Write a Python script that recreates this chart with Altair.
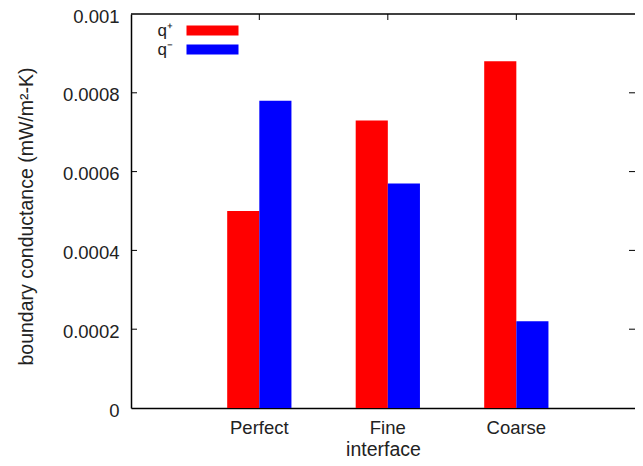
import altair as alt
import pandas as pd

categories = ["Perfect", "Fine", "Coarse"]
series = ["q⁺", "q⁻"]
q_plus = [0.0005, 0.00073, 0.00088]
q_minus = [0.00078, 0.00057, 0.00022]
colors = ["#ff0000", "#0000ff"]
y_ticks = [0, 0.0002, 0.0004, 0.0006, 0.0008, 0.001]
inner_ticks = [0.0002, 0.0004, 0.0006, 0.0008]

W, H = 504, 394
FONT = "Liberation Sans"
TXT = "#222222"

rows = []
for c, a, b in zip(categories, q_plus, q_minus):
    rows.append({"interface": c, "series": series[0], "value": a})
    rows.append({"interface": c, "series": series[1], "value": b})
df = pd.DataFrame(rows)

xscale = alt.Scale(domain=categories, paddingInner=0.5, paddingOuter=0.711, align=0.5264)
yscale = alt.Scale(domain=[0, 0.001], nice=False, zero=True)

# legend swatch: 52x10 box drawn to the right of its (right-aligned) label
swatch_path = "M4.4,-1H14.8V1H4.4Z"

bars = alt.Chart(df).mark_bar().encode(
    x=alt.X("interface:N", scale=xscale, sort=categories,
            axis=alt.Axis(title="interface", labelAngle=0, ticks=False, labelPadding=10,
                          domainColor="#000", domainWidth=1.5, grid=False,
                          labelFont=FONT, labelFontSize=18.5, labelColor=TXT,
                          titleFont=FONT, titleFontSize=19.5, titleFontWeight="normal", titleColor=TXT,
                          titleY=47, titleBaseline="alphabetic")),
    xOffset=alt.XOffset("series:N", sort=series, scale=alt.Scale(domain=series, paddingInner=0, paddingOuter=0)),
    y=alt.Y("value:Q", scale=yscale,
            axis=alt.Axis(title="boundary conductance (mW/m²-K)", values=y_ticks, format="~g",
                          ticks=False, labelPadding=12, labelOffset=2, grid=False,
                          domainColor="#000", domainWidth=1.5,
                          labelFont=FONT, labelFontSize=18.5, labelColor=TXT,
                          titleFont=FONT, titleFontSize=19.5, titleFontWeight="normal", titleColor=TXT,
                          titleX=-99, titleY=H / 2 + 5, titleAngle=270, titleAlign="center",
                          titleBaseline="alphabetic")),
    color=alt.Color("series:N", scale=alt.Scale(domain=series, range=colors),
                    legend=alt.Legend(orient="none", legendX=25, legendY=8, title=None,
                                      symbolType=swatch_path, symbolSize=100,
                                      symbolStrokeWidth=0, symbolOpacity=1,
                                      labelAlign="right", labelOffset=0,
                                      labelFont=FONT, labelFontSize=17, labelColor=TXT,
                                      rowPadding=1, padding=0)),
)

tick_df = pd.DataFrame({"value": inner_ticks})
left_ticks = alt.Chart(tick_df).mark_rule(color="#000", strokeWidth=1).encode(
    y=alt.Y("value:Q", scale=yscale), x=alt.value(0), x2=alt.value(6))
right_ticks = alt.Chart(tick_df).mark_rule(color="#000", strokeWidth=1).encode(
    y=alt.Y("value:Q", scale=yscale), x=alt.value(W - 6), x2=alt.value(W))
top_ticks = alt.Chart(pd.DataFrame({"interface": categories})).mark_rule(color="#000", strokeWidth=1).encode(
    x=alt.X("interface:N", scale=xscale, sort=categories), y=alt.value(0), y2=alt.value(6))
top_border = alt.Chart(pd.DataFrame({"a": [0]})).mark_rule(color="#000", strokeWidth=1.5).encode(
    x=alt.value(0), x2=alt.value(W), y=alt.value(0))

chart = alt.layer(bars, left_ticks, right_ticks, top_ticks, top_border).properties(
    width=W, height=H,
    autosize=alt.AutoSizeParams(type="none"),
    padding={"left": 123, "top": 6, "right": 0, "bottom": 50},
).configure_view(stroke=None)

chart.save("out.html", embed_options={"renderer": "svg", "actions": False})
